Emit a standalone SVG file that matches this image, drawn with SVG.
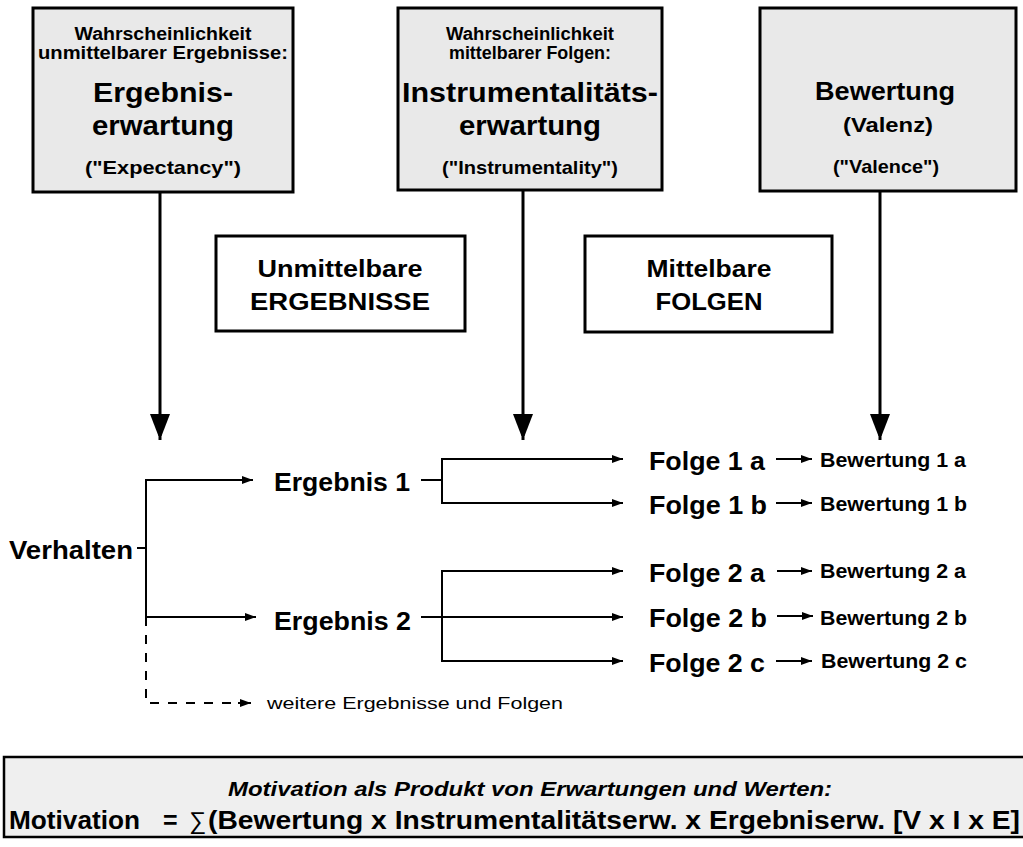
<svg xmlns="http://www.w3.org/2000/svg" width="1023" height="847" viewBox="0 0 1023 847">
<defs>
<style>
text{font-family:"Liberation Sans",Arial,sans-serif;font-weight:bold;fill:#000}
.box{fill:#e9e9e9;stroke:#000;stroke-width:3}
.wbox{fill:#fff;stroke:#000;stroke-width:3}
.ln{stroke:#000;stroke-width:2;fill:none}
.thick{stroke:#000;stroke-width:3;fill:none}
.dash{stroke:#000;stroke-width:2;fill:none;stroke-dasharray:9,9}
.c{text-anchor:middle}
.s17{font-size:17.5px}
.s28{font-size:28px}
.s26{font-size:26px}
.s18{font-size:18.5px}
.s20{font-size:20px}
.s23{font-size:23px}
.s19{font-size:19.5px}
</style>
<marker id="ah" markerUnits="userSpaceOnUse" markerWidth="12" markerHeight="10" refX="11" refY="4" orient="auto">
<path d="M0,0 L11,4 L0,8 z" fill="#000"/>
</marker>
<marker id="big" markerUnits="userSpaceOnUse" markerWidth="22" markerHeight="28" refX="26" refY="10" orient="auto">
<path d="M0,0 L26,10 L0,20 z" fill="#000"/>
</marker>
</defs>
<rect width="1023" height="847" fill="#fff"/>

<g id="node-ergebniserwartung">
<rect class="box" x="33" y="8" width="260" height="184"/>
<text class="c s17" x="163" y="40" textLength="177" lengthAdjust="spacingAndGlyphs">Wahrscheinlichkeit</text>
<text class="c s17" x="163" y="59" textLength="250" lengthAdjust="spacingAndGlyphs">unmittelbarer Ergebnisse:</text>
<text class="c s28" x="163" y="102" textLength="140" lengthAdjust="spacingAndGlyphs">Ergebnis-</text>
<text class="c s28" x="163" y="135" textLength="142" lengthAdjust="spacingAndGlyphs">erwartung</text>
<text class="c s18" x="163" y="174" textLength="156" lengthAdjust="spacingAndGlyphs">("Expectancy")</text>
</g>

<g id="node-instrumentalitaetserwartung">
<rect class="box" x="398" y="8" width="264" height="182"/>
<text class="c s17" x="530" y="40" textLength="168" lengthAdjust="spacingAndGlyphs">Wahrscheinlichkeit</text>
<text class="c s17" x="530" y="59" textLength="162" lengthAdjust="spacingAndGlyphs">mittelbarer Folgen:</text>
<text class="c s28" x="530" y="102" textLength="256" lengthAdjust="spacingAndGlyphs">Instrumentalitäts-</text>
<text class="c s28" x="530" y="135" textLength="142" lengthAdjust="spacingAndGlyphs">erwartung</text>
<text class="c s18" x="530" y="174" textLength="176" lengthAdjust="spacingAndGlyphs">("Instrumentality")</text>
</g>

<g id="node-bewertung">
<rect class="box" x="760" y="8" width="256" height="183"/>
<text class="c s26" x="885" y="100" textLength="140" lengthAdjust="spacingAndGlyphs">Bewertung</text>
<text class="c s20" x="888" y="132" textLength="90" lengthAdjust="spacingAndGlyphs">(Valenz)</text>
<text class="c s18" x="886" y="173" textLength="106" lengthAdjust="spacingAndGlyphs">("Valence")</text>
</g>

<g id="node-unmittelbare">
<rect class="wbox" x="216" y="236" width="249" height="95"/>
<text class="c s23" x="340" y="277" textLength="165" lengthAdjust="spacingAndGlyphs">Unmittelbare</text>
<text class="c s23" x="340" y="310" textLength="180" lengthAdjust="spacingAndGlyphs">ERGEBNISSE</text>
</g>

<g id="node-mittelbare">
<rect class="wbox" x="585" y="236" width="247" height="96"/>
<text class="c s23" x="709" y="277" textLength="125" lengthAdjust="spacingAndGlyphs">Mittelbare</text>
<text class="c s23" x="709" y="310" textLength="107" lengthAdjust="spacingAndGlyphs">FOLGEN</text>
</g>

<g id="node-verhalten"><text class="s26" x="9" y="559" textLength="124" lengthAdjust="spacingAndGlyphs">Verhalten</text></g>
<g id="node-ergebnis1"><text class="s26" x="274" y="491" textLength="136" lengthAdjust="spacingAndGlyphs">Ergebnis 1</text></g>
<g id="node-ergebnis2"><text class="s26" x="274" y="630" textLength="137" lengthAdjust="spacingAndGlyphs">Ergebnis 2</text></g>
<g id="node-folge1a"><text class="s26" x="649" y="470" textLength="116" lengthAdjust="spacingAndGlyphs">Folge 1 a</text></g>
<g id="node-folge1b"><text class="s26" x="649" y="514" textLength="118" lengthAdjust="spacingAndGlyphs">Folge 1 b</text></g>
<g id="node-folge2a"><text class="s26" x="649" y="582" textLength="116" lengthAdjust="spacingAndGlyphs">Folge 2 a</text></g>
<g id="node-folge2b"><text class="s26" x="649" y="627" textLength="118" lengthAdjust="spacingAndGlyphs">Folge 2 b</text></g>
<g id="node-folge2c"><text class="s26" x="649" y="672" textLength="116" lengthAdjust="spacingAndGlyphs">Folge 2 c</text></g>
<g id="node-bew1a"><text class="s19" x="820" y="467" textLength="146" lengthAdjust="spacingAndGlyphs">Bewertung 1 a</text></g>
<g id="node-bew1b"><text class="s19" x="820" y="511" textLength="147" lengthAdjust="spacingAndGlyphs">Bewertung 1 b</text></g>
<g id="node-bew2a"><text class="s19" x="820" y="578" textLength="146" lengthAdjust="spacingAndGlyphs">Bewertung 2 a</text></g>
<g id="node-bew2b"><text class="s19" x="820" y="625" textLength="147" lengthAdjust="spacingAndGlyphs">Bewertung 2 b</text></g>
<g id="node-bew2c"><text class="s19" x="821" y="668" textLength="146" lengthAdjust="spacingAndGlyphs">Bewertung 2 c</text></g>
<g id="node-weitere"><text x="267" y="709" style="font-weight:normal;font-size:16px" textLength="296" lengthAdjust="spacingAndGlyphs">weitere Ergebnisse und Folgen</text></g>

<g id="connectors">
<line class="thick" x1="160" y1="192" x2="160" y2="440" marker-end="url(#big)"/>
<line class="thick" x1="523" y1="190" x2="523" y2="440" marker-end="url(#big)"/>
<line class="thick" x1="880" y1="191" x2="880" y2="440" marker-end="url(#big)"/>

<line class="ln" x1="137" y1="548" x2="147" y2="548"/>
<polyline class="ln" points="146,480 146,617 256,617" marker-end="url(#ah)"/>
<line class="ln" x1="145" y1="480" x2="253" y2="480" marker-end="url(#ah)"/>
<polyline class="dash" points="146,617 146,703 240,703"/>
<line class="ln" x1="238" y1="703" x2="251" y2="703" marker-end="url(#ah)"/>

<line class="ln" x1="421" y1="480" x2="442" y2="480"/>
<line class="ln" x1="442" y1="458" x2="442" y2="503"/>
<line class="ln" x1="441" y1="459" x2="623" y2="459" marker-end="url(#ah)"/>
<line class="ln" x1="441" y1="503" x2="623" y2="503" marker-end="url(#ah)"/>

<line class="ln" x1="421" y1="617" x2="623" y2="617" marker-end="url(#ah)"/>
<line class="ln" x1="442" y1="571" x2="442" y2="661"/>
<line class="ln" x1="441" y1="571" x2="623" y2="571" marker-end="url(#ah)"/>
<line class="ln" x1="441" y1="661" x2="623" y2="661" marker-end="url(#ah)"/>

<line class="ln" x1="776" y1="459" x2="812" y2="459" marker-end="url(#ah)"/>
<line class="ln" x1="776" y1="503" x2="812" y2="503" marker-end="url(#ah)"/>
<line class="ln" x1="777" y1="571" x2="812" y2="571" marker-end="url(#ah)"/>
<line class="ln" x1="777" y1="616" x2="813" y2="616" marker-end="url(#ah)"/>
<line class="ln" x1="776" y1="661" x2="812" y2="661" marker-end="url(#ah)"/>
</g>

<g id="node-formel">
<rect x="4" y="757" width="1030" height="80" fill="#efefef" stroke="#000" stroke-width="2.5"/>
<text class="c" x="530" y="796" style="font-size:20px;font-style:italic" textLength="604" lengthAdjust="spacingAndGlyphs">Motivation als Produkt von Erwartungen und Werten:</text>
<text x="9" y="829" style="font-size:26px" textLength="131" lengthAdjust="spacingAndGlyphs">Motivation</text>
<text x="163" y="829" style="font-size:25px">=</text>
<text x="189" y="829" style="font-size:24px;font-weight:normal">∑</text>
<text x="208" y="829" style="font-size:26px" textLength="812" lengthAdjust="spacingAndGlyphs">(Bewertung x Instrumentalitätserw. x Ergebniserw. [V x I x E]</text>
</g>
</svg>
